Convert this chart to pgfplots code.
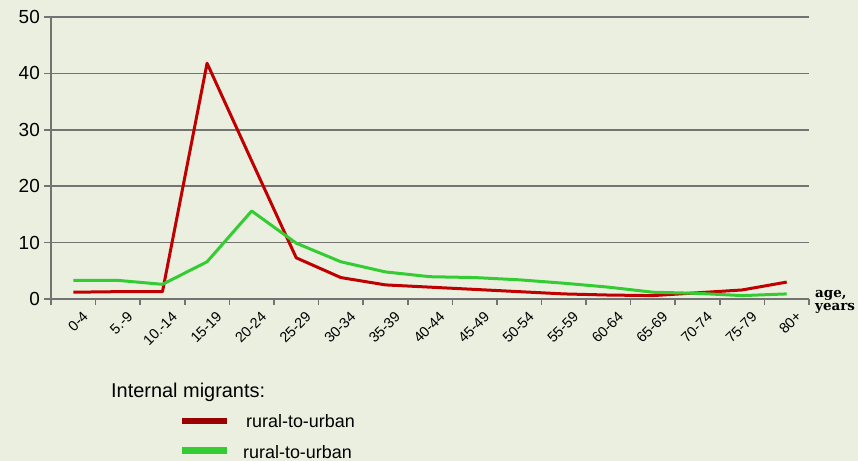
\documentclass[border=0pt]{standalone}
\usepackage{fontspec}
\setmainfont{Liberation Sans}
\newfontfamily\agefont{DejaVu Serif}
\usepackage{pgfplots}
\usepackage{pgfplotstable}
\pgfplotsset{compat=1.18}
\definecolor{bg}{HTML}{EBEFDF}
\definecolor{ruralred}{HTML}{C00000}
\definecolor{ruralgreen}{HTML}{33CC33}
\definecolor{legred}{HTML}{990000}
\definecolor{gridgray}{HTML}{737373}

% share of migrants by age group, %
\pgfplotstableread{
x  red   green
0  1.2   3.3
1  1.3   3.3
2  1.3   2.6
3  41.8  6.6
4  24.5  15.6
5  7.3   9.9
6  3.8   6.6
7  2.5   4.8
8  2.1   3.95
9  1.7   3.8
10 1.3   3.4
11 0.9   2.8
12 0.7   2.1
13 0.6   1.2
14 1.1   1.0
15 1.6   0.6
16 3.0   0.9
}\migr

\begin{document}
\begin{tikzpicture}[x=1bp,y=1bp]
\fill[bg] (0,0) rectangle (858,461);
\useasboundingbox (0,0) rectangle (858,461);
\begin{axis}[
    at={(51bp,162bp)}, anchor=south west,
    scale only axis,
    width=758bp, height=282bp,
    xmin=-0.5, xmax=16.5,
    ymin=0, ymax=50,
    ytick={0,10,...,50},
    xtick={0,...,16},
    xticklabels={0-4,5.-9,10.-14,15-19,20-24,25-29,30-34,35-39,40-44,45-49,50-54,55-59,60-64,65-69,70-74,75-79,80+},
    minor xtick={-0.5,0.5,...,16.5},
    major x tick style={draw=none},
    axis x line*=bottom,
    axis y line*=left,
    axis line style={gridgray, line width=1.6bp, -},
    tick align=outside,
    major tick length=7bp,
    minor tick length=6bp,
    tick style={gridgray, line width=1.6bp},
    minor tick style={gridgray, line width=1.6bp},
    ymajorgrids=true,
    grid style={gridgray, line width=1.6bp},
    /pgf/number format/assume math mode=true,
    yticklabel style={font=\fontsize{19}{19}\selectfont, inner sep=1bp, xshift=-3bp},
    xticklabel style={font=\fontsize{14.5}{14.5}\selectfont, rotate=45, anchor=north east, inner sep=0bp, xshift=3bp, yshift=-9bp},
    clip=false,
]
\addplot[ruralred, line width=3bp, line join=round, mark=none] table[x=x, y=red] {\migr};
\addplot[ruralgreen, line width=3bp, line join=round, mark=none] table[x=x, y=green] {\migr};
\end{axis}
\node[anchor=west, inner sep=0, align=left, font=\agefont\bfseries\fontsize{13.5}{12.5}\selectfont] at (815,159) {age,\\years};
% legend
\node[anchor=west, inner sep=0, font=\fontsize{20}{20}\selectfont] at (111,69) {Internal migrants:};
\draw[legred, line width=6.5bp] (182,40) -- (227,40);
\node[anchor=west, inner sep=0, font=\fontsize{18}{18}\selectfont] at (246,40) {rural-to-urban};
\draw[ruralgreen, line width=6.5bp] (182,10.3) -- (227,10.3);
\node[anchor=west, inner sep=0, font=\fontsize{18}{18}\selectfont] at (243,8.5) {rural-to-urban};
\end{tikzpicture}
\end{document}
